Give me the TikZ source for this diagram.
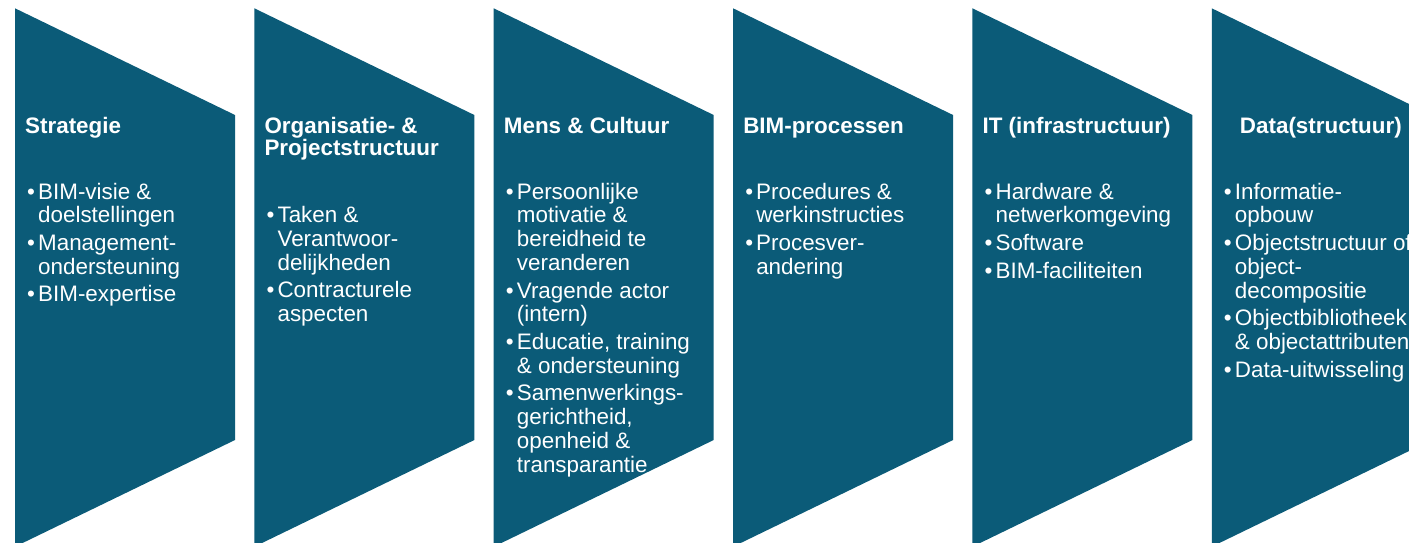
\documentclass[tikz,border=0pt]{standalone}
\usepackage{fontspec}
\setmainfont{Liberation Sans}
\definecolor{bimblue}{RGB}{11,91,120}
\newcommand{\bodybox}[1]{\vtop{\hsize=400pt\fontsize{22.4}{23.8}\selectfont\lineskiplimit=-100pt\lineskip=0pt\parindent=0pt\parskip=3.8pt\leftskip=0pt\rightskip=0pt plus 1fil\relax #1\par}}
\newcommand{\titlebox}[1]{\vtop{\hsize=400pt\fontsize{22.4}{22.5}\selectfont\bfseries\lineskiplimit=-100pt\lineskip=0pt\parindent=0pt\rightskip=0pt plus 1fil\relax\noindent #1\par}}
\newcommand{\itm}{\par\hangindent=11pt\hangafter=1\noindent\makebox[11pt][l]{•}}
\begin{document}
\begin{tikzpicture}[x=1pt,y=-1pt,
  chev/.style={fill=bimblue},
  ttl/.style={text=white, inner sep=0pt, anchor=base west},
  bdy/.style={text=white, inner sep=0pt, anchor=base west}]
\useasboundingbox (0,0) rectangle (1409,542);
\foreach \i in {0,...,5}{
  \pgfmathsetmacro\L{15+239.35*\i}
  \fill[chev] (\L,8.3) -- (\L+220,115) -- (\L+220,440) -- (\L,546.7) -- cycle;
}
% Column 1
\node[ttl] (t1) at (25,133) {\titlebox{Strategie}};
\node[bdy] (b1) at (27,199) {\bodybox{\itm BIM-visie \&\break doelstellingen
  \itm Management-\break ondersteuning
  \itm BIM-expertise}};
% Column 2
\node[ttl] (t2) at (264.35,133) {\titlebox{Organisatie- \&\break Projectstructuur}};
\node[bdy] (b2) at (266.35,222.5) {\bodybox{\itm Taken \&\break Verantwoor-\break delijkheden
  \itm Contracturele\break aspecten}};
% Column 3
\node[ttl] (t3) at (503.7,133) {\titlebox{Mens \& Cultuur}};
\node[bdy] (b3) at (505.7,199) {\bodybox{\itm Persoonlijke\break motivatie \&\break bereidheid te\break veranderen
  \itm Vragende actor\break (intern)
  \itm Educatie, training\break \& ondersteuning
  \itm Samenwerkings-\break gerichtheid,\break openheid \&\break transparantie}};
% Column 4
\node[ttl] (t4) at (743.05,133) {\titlebox{BIM-processen}};
\node[bdy] (b4) at (745.05,199) {\bodybox{\itm Procedures \&\break werkinstructies
  \itm Procesver-\break andering}};
% Column 5
\node[ttl] (t5) at (982.4,133) {\titlebox{IT (infrastructuur)}};
\node[bdy] (b5) at (984.4,199) {\bodybox{\itm Hardware \&\break netwerkomgeving
  \itm Software
  \itm BIM-faciliteiten}};
% Column 6
\node[ttl] (t6) at (1239.75,133) {\titlebox{Data(structuur)}};
\node[bdy] (b6) at (1223.75,199) {\bodybox{\itm Informatie-\break opbouw
  \itm Objectstructuur of\break object-\break decompositie
  \itm Objectbibliotheek\break \& objectattributen
  \itm Data-uitwisseling}};
\end{tikzpicture}
\end{document}
